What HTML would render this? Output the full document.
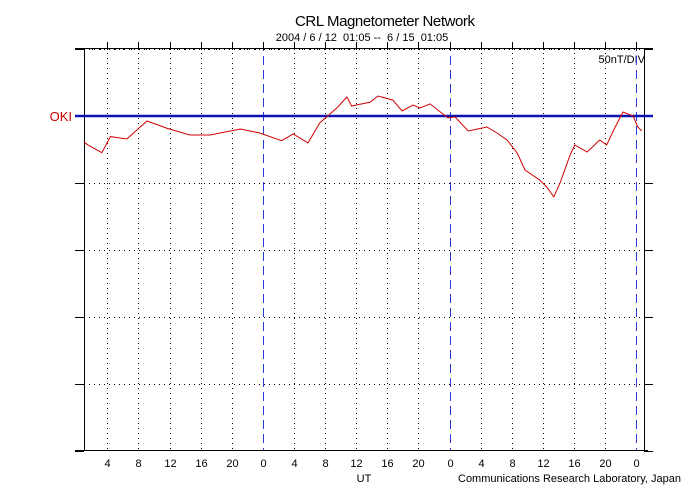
<!DOCTYPE html>
<html><head><meta charset="utf-8"><style>
body{margin:0;background:#fff;}
svg{display:block;font-family:"Liberation Sans",sans-serif;}
</style></head><body>
<svg id="chart" width="700" height="500" viewBox="0 0 700 500">
<text x="385" y="26" font-size="15" text-anchor="middle" textLength="180">CRL Magnetometer Network</text>
<text x="362" y="41" font-size="11" text-anchor="middle" xml:space="preserve">2004 / 6 / 12  01:05 --  6 / 15  01:05</text>
<text x="645" y="63" font-size="11" text-anchor="end">50nT/DIV</text>
<text x="72" y="121" font-size="13" fill="#d00000" text-anchor="end">OKI</text>
<text x="364" y="482" font-size="11" text-anchor="middle">UT</text>
<text x="458" y="482" font-size="11">Communications Research Laboratory, Japan</text>
<g id="grid"></g>
<g id="days"></g>
<g id="axes"></g>
<g id="series"></g>
</svg>
<script>
const hours = [0,0.5,2.3,3.4,5.5,8.1,10.6,13.6,16.2,20.1,22.6,25.4,26.9,28.8,30.3,32.5,33.8,34.4,36.8,37.8,39.7,40.9,42.3,43.2,44.5,46.8,47.7,49.4,51.8,53.1,54.4,55.7,56.7,58.6,59.5,60.4,61.2,62.5,63.1,64.7,66.3,67.2,68.3,69.3,70.6,71.2,71.7];
const values = [-19.4,-21.6,-27.4,-15.4,-17.2,-3.7,-9.0,-14.2,-14.2,-9.7,-12.7,-18.4,-13.4,-20.1,-5.2,6.0,14.2,7.5,10.4,14.9,11.9,3.7,8.2,6.0,9.0,-1.5,-0.7,-11.2,-8.2,-12.7,-17.9,-27.6,-40.3,-47.8,-53.0,-60.4,-50.0,-29.1,-21.6,-26.9,-17.9,-21.6,-8.2,3.0,0,-8.2,-11.2];
const tickHours = [3,7,11,15,19,23,27,31,35,39,43,47,51,55,59,63,67,71];
const tickLabels = ["4","8","12","16","20","0","4","8","12","16","20","0","4","8","12","16","20","0"];
const dayHours = [23,47,71];
const gridLevels = [50,-50,-100,-150,-200,-250];

const X0=84, X1=644, Y0=48, Y1=450, BASE=116;
const hrs=72, pxPerH=(X1-X0)/hrs, pxPerNT=67/50;
const xs = h => X0 + h*pxPerH;
const ys = v => BASE - v*pxPerNT;
const NS='http://www.w3.org/2000/svg';
function mk(tag, attrs, parent){const e=document.createElementNS(NS,tag);for(const k in attrs)e.setAttribute(k,attrs[k]);parent.appendChild(e);return e;}
const grid=document.getElementById('grid'), days=document.getElementById('days'), axes=document.getElementById('axes'), series=document.getElementById('series');

tickHours.forEach((h,i)=>{
  const x=Math.round(xs(h))+0.5;
  if(dayHours.indexOf(h)<0){
    const l=mk('line',{x1:x,y1:Y0,x2:x,y2:Y1,stroke:'#000','stroke-dasharray':'1,4'},grid);
    
    
  }
  const t=mk('line',{x1:x,y1:Y0-6,x2:x,y2:Y0,stroke:'#000'},axes);
  
  
  const tx=mk('text',{x:x,y:467,'font-size':11,'text-anchor':'middle'},axes);
  tx.textContent=tickLabels[i];
  
  
});
dayHours.forEach(h=>{
  const x=Math.round(xs(h))+0.5;
  const l=mk('line',{x1:x,y1:Y0-6,x2:x,y2:Y1,stroke:'#2a3ad8','stroke-width':1,'stroke-dasharray':'9,5'},days);
  
  
});
for(let h=0;h<=72;h++){
  const x=Math.round(X0+h*pxPerH)+0.5;
  const m=mk('line',{x1:x,y1:Y0+1,x2:x,y2:Y0+2,stroke:'#000'},axes);
  
  
}
gridLevels.forEach(v=>{
  const y=Math.round(ys(v))+0.5;
  if(y>Y0+1 && y<Y1-1){
    const l=mk('line',{x1:X0,y1:y,x2:X1,y2:y,stroke:'#000','stroke-dasharray':'1,4'},grid);
    
    
  }
  const t1=mk('line',{x1:75,y1:y,x2:X0,y2:y,stroke:'#000'},axes);
  
  
  const t2=mk('line',{x1:X1,y1:y,x2:653,y2:y,stroke:'#000'},axes);
  
  
});
[[75,Y0+0.5,653,Y0+0.5,'top-axis'],[75,Y1+0.5,648,Y1+0.5,'bottom-axis'],[X0+0.5,Y0,X0+0.5,Y1,'left-axis'],[X1+0.5,Y0,X1+0.5,Y1,'right-axis']].forEach(a=>{
  const l=mk('line',{x1:a[0],y1:a[1],x2:a[2],y2:a[3],stroke:'#000'},axes);
  
  
});
const bl=mk('line',{x1:75,y1:BASE,x2:653,y2:BASE,stroke:'#0a14b4','stroke-width':2.5},series);


const pts=hours.map((h,i)=>xs(h).toFixed(1)+','+ys(values[i]).toFixed(1)).join(' ');
const pl=mk('polyline',{points:pts,fill:'none',stroke:'#d00000','stroke-width':1},series);


</script>
</body></html>
